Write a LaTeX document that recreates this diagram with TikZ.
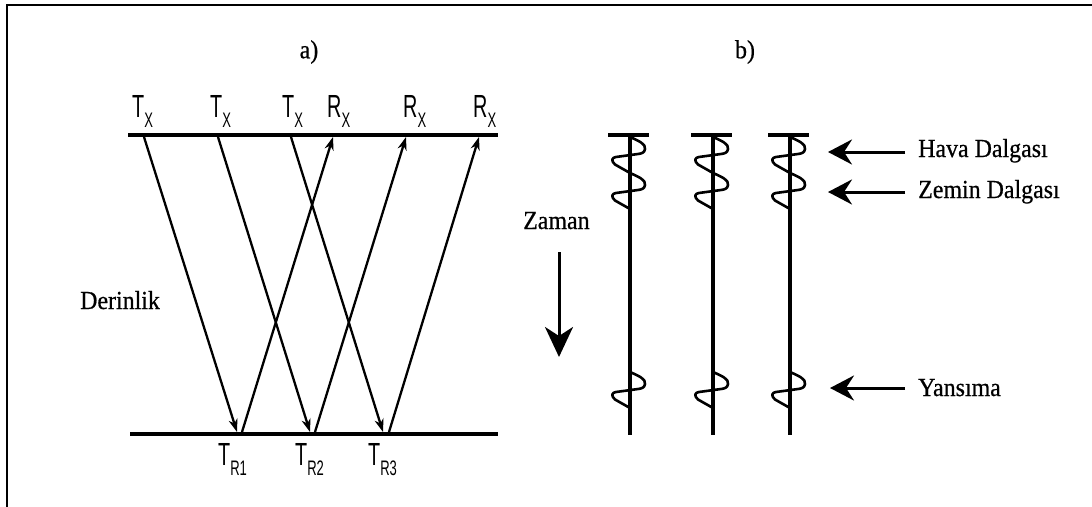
\documentclass[tikz,border=0pt]{standalone}
\usepackage{fontspec}
\setmainfont{Liberation Serif}[FakeStretch=0.92,FakeBold=0.6]
\newfontfamily\labfont[FakeStretch=0.62]{Liberation Sans}
\usetikzlibrary{arrows.meta}
\newcommand\lbl[2]{#1\raisebox{-10pt}{\fontsize{21}{21}\selectfont #2}}
\begin{document}
\begin{tikzpicture}[x=1pt,y=-1pt,
  frame/.style={line width=2pt,line cap=rect},
  bar/.style={line width=4.5pt},
  ray/.style={line width=2.3pt,-{Stealth[length=13pt,width=9pt,inset=4pt]}},
  trace/.style={line width=3.5pt},
  wig/.style={line width=2.6pt,line join=round},
  bigarr/.style={line width=3pt,-{Stealth[length=24pt,width=25pt,inset=8pt]}},
  sertext/.style={font=\fontsize{26}{30}\selectfont,inner sep=0pt},
  sanslab/.style={font=\labfont\fontsize{32}{32}\selectfont,inner sep=0pt,anchor=base west},
  cyc/.pic={\draw[wig] (0,-18) .. controls (9,-14) and (16,-11) .. (15,-6)
      .. controls (14.5,-2.5) and (12,-1.5) .. (8,-1) -- (-14,2)
      .. controls (-18.5,2.5) and (-19,6) .. (-15,9.5) -- (0,18);}
]
\useasboundingbox (0,0) rectangle (1092,506);
% frame
\coordinate (f1) at (7,506); \coordinate (f2) at (7,5); \coordinate (f3) at (1092,5);
\draw[frame] (f1) -- (f2) -- (f3);

% ---------- panel a ----------
\node[sertext] (la) at (309,52) {a)};
\coordinate (tl) at (128,135); \coordinate (tr) at (498,135);
\coordinate (bl) at (130,434); \coordinate (br) at (498,434);
\draw[bar] (tl) -- (tr);
\draw[bar] (bl) -- (br);

\coordinate (s1) at (144,137); \coordinate (e1) at (237,432);
\coordinate (s2) at (218,137); \coordinate (e2) at (310,432);
\coordinate (s3) at (291,137); \coordinate (e3) at (383,432);
\coordinate (u1) at (242,432); \coordinate (v1) at (333,137);
\coordinate (u2) at (315,432); \coordinate (v2) at (406,137);
\coordinate (u3) at (389,432); \coordinate (v3) at (479,137);
\draw[ray] (s1) -- (e1);
\draw[ray] (s2) -- (e2);
\draw[ray] (s3) -- (e3);
\draw[ray] (u1) -- (v1);
\draw[ray] (u2) -- (v2);
\draw[ray] (u3) -- (v3);

\node[sanslab] (tx1) at (132,117) {\lbl{T}{X}};
\node[sanslab] (tx2) at (210,117) {\lbl{T}{X}};
\node[sanslab] (tx3) at (282,117) {\lbl{T}{X}};
\node[sanslab] (rx1) at (327,117) {\lbl{R}{X}};
\node[sanslab] (rx2) at (403,117) {\lbl{R}{X}};
\node[sanslab] (rx3) at (473,117) {\lbl{R}{X}};
\node[sanslab] (tr1) at (218,465) {\lbl{T}{R1}};
\node[sanslab] (tr2) at (295,465) {\lbl{T}{R2}};
\node[sanslab] (tr3) at (368,465) {\lbl{T}{R3}};

\node[sertext,anchor=base west] (der) at (80,309) {Derinlik};

% ---------- panel b ----------
\node[sertext] (lb) at (745,52) {b)};
\node[sertext,anchor=base west] (zam) at (523,229) {Zaman};
\coordinate (za) at (559,252); \coordinate (zb) at (559,357);
\draw[line width=3pt,-{Stealth[length=30pt,width=28pt,inset=9pt]}] (za) -- (zb);

\foreach \x/\n in {630/1,713/2,790/3}{
  \coordinate (top\n) at (\x,135); \coordinate (bot\n) at (\x,435);
  \coordinate (bl\n) at (\x-22,135); \coordinate (br\n) at (\x+19,135);
  \draw[trace] (top\n) -- (bot\n);
  \draw[bar] (bl\n) -- (br\n);
  \pic at (\x,155) {cyc};
  \pic at (\x,191) {cyc};
  \pic at (\x,390) {cyc};
}

\coordinate (ha) at (905,152); \coordinate (hb) at (828,152);
\coordinate (za1) at (905,192); \coordinate (zb1) at (828,192);
\coordinate (ya) at (905,388); \coordinate (yb) at (830,388);
\draw[bigarr] (ha) -- (hb);
\draw[bigarr] (za1) -- (zb1);
\draw[bigarr] (ya) -- (yb);
\node[sertext,anchor=base west] (hava) at (918,157) {Hava Dalgası};
\node[sertext,anchor=base west] (zemin) at (918,198) {Zemin Dalgası};
\node[sertext,anchor=base west] (yans) at (918,396) {Yansıma};
\end{tikzpicture}
\end{document}
